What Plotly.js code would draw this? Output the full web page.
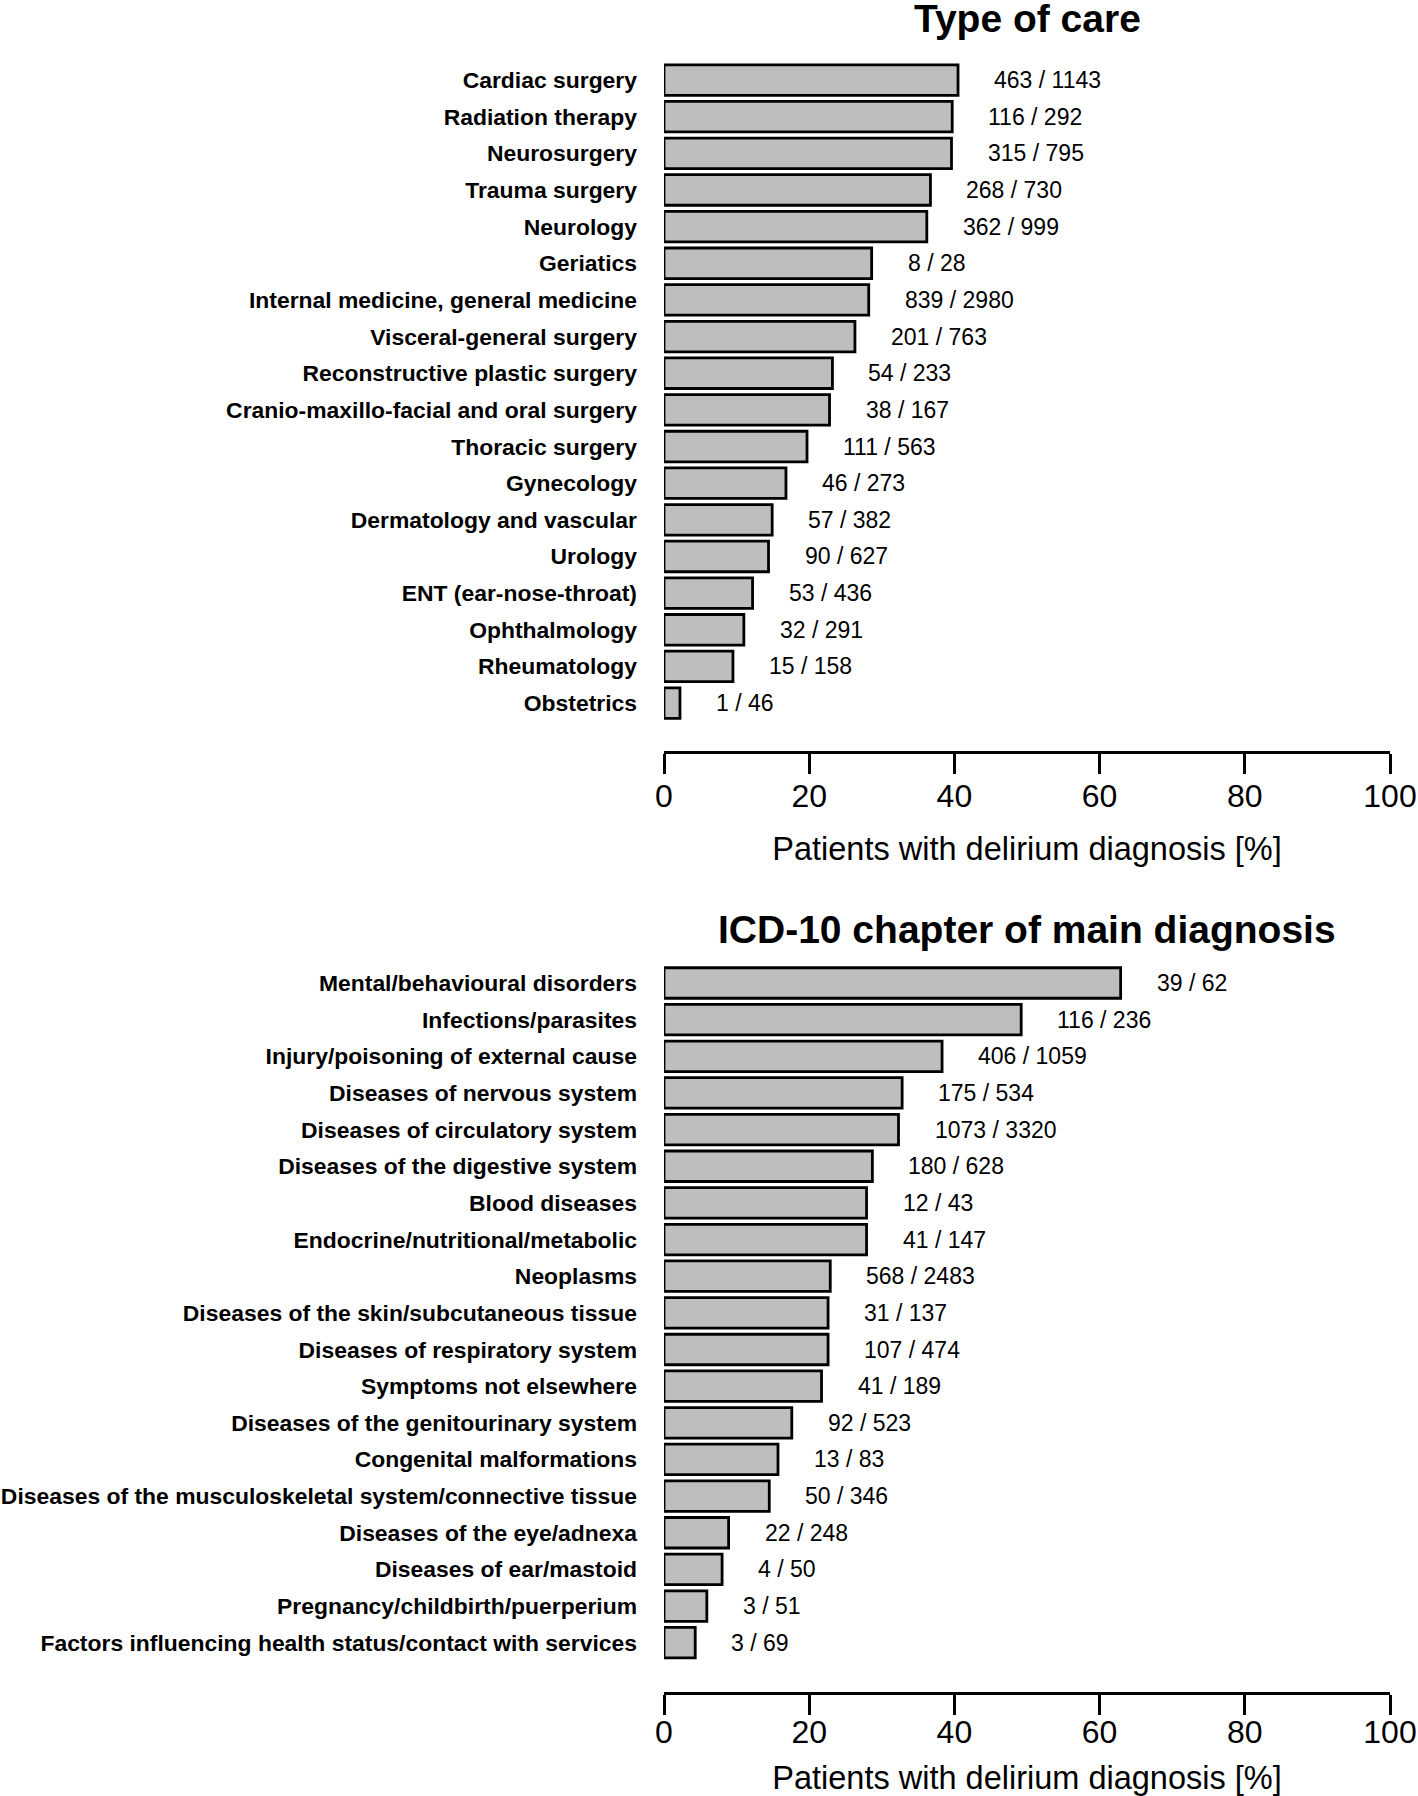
<!DOCTYPE html>
<html>
<head>
<meta charset="utf-8">
<script src="https://cdn.plot.ly/plotly-3.0.1.min.js"></script>
<style>
  html, body { margin: 0; padding: 0; background: #ffffff; }
  #chart { width: 1418px; height: 1796px; }
</style>
</head>
<body>
<div id="chart"></div>
<script>
// ---- Data: Type of care ----
const careCategories = [
  "Cardiac surgery", "Radiation therapy", "Neurosurgery", "Trauma surgery",
  "Neurology", "Geriatics", "Internal medicine, general medicine",
  "Visceral-general surgery", "Reconstructive plastic surgery",
  "Cranio-maxillo-facial and oral surgery", "Thoracic surgery", "Gynecology",
  "Dermatology and vascular", "Urology", "ENT (ear-nose-throat)",
  "Ophthalmology", "Rheumatology", "Obstetrics"
];
const carePercent = [
  40.5, 39.7, 39.6, 36.7, 36.2, 28.6, 28.2, 26.3, 23.2,
  22.8, 19.7, 16.8, 14.9, 14.4, 12.2, 11.0, 9.5, 2.2
];
const careCounts = [
  "463 / 1143", "116 / 292", "315 / 795", "268 / 730", "362 / 999", "8 / 28",
  "839 / 2980", "201 / 763", "54 / 233", "38 / 167", "111 / 563", "46 / 273",
  "57 / 382", "90 / 627", "53 / 436", "32 / 291", "15 / 158", "1 / 46"
];

// ---- Data: ICD-10 chapter of main diagnosis ----
const icdCategories = [
  "Mental/behavioural disorders", "Infections/parasites",
  "Injury/poisoning of external cause", "Diseases of nervous system",
  "Diseases of circulatory system", "Diseases of the digestive system",
  "Blood diseases", "Endocrine/nutritional/metabolic", "Neoplasms",
  "Diseases of the skin/subcutaneous tissue", "Diseases of respiratory system",
  "Symptoms not elsewhere", "Diseases of the genitourinary system",
  "Congenital malformations",
  "Diseases of the musculoskeletal system/connective tissue",
  "Diseases of the eye/adnexa", "Diseases of ear/mastoid",
  "Pregnancy/childbirth/puerperium",
  "Factors influencing health status/contact with services"
];
const icdPercent = [
  62.9, 49.2, 38.3, 32.8, 32.3, 28.7, 27.9, 27.9, 22.9, 22.6,
  22.6, 21.7, 17.6, 15.7, 14.5, 8.9, 8.0, 5.9, 4.3
];
const icdCounts = [
  "39 / 62", "116 / 236", "406 / 1059", "175 / 534", "1073 / 3320",
  "180 / 628", "12 / 43", "41 / 147", "568 / 2483", "31 / 137",
  "107 / 474", "41 / 189", "92 / 523", "13 / 83", "50 / 346",
  "22 / 248", "4 / 50", "3 / 51", "3 / 69"
];

const titleTop = "Type of care";
const titleBottom = "ICD-10 chapter of main diagnosis";
const xTitle = "Patients with delirium diagnosis [%]";
const xTicks = [0, 20, 40, 60, 80, 100];

// ---- Styling ----
const FONT = "Liberation Sans, Arial, Helvetica, sans-serif";
const barFill = "#bebebe";

function barTrace(cats, vals, xa, ya) {
  return {
    type: "bar", orientation: "h",
    x: vals, y: cats, xaxis: xa, yaxis: ya,
    width: 0.833,
    marker: { color: barFill, line: { color: "#000000", width: 2.8 } },
    hoverinfo: "skip", showlegend: false
  };
}

function countAnnotations(cats, vals, labels, xref, yref) {
  return cats.map((c, i) => ({
    x: vals[i], y: c, xref: xref, yref: yref,
    text: labels[i], showarrow: false,
    xanchor: "left", yanchor: "middle", xshift: 34,
    font: { family: FONT, size: 23, color: "#000000" }
  }));
}

const xDomain = [664 / 1418, 1390 / 1418];

function xAxis(anchor, labelStandoff, titleStandoff) {
  return {
    domain: xDomain, anchor: anchor,
    range: [0, 100], tickmode: "array", tickvals: xTicks,
    ticks: "outside", ticklen: 20, tickwidth: 3, tickcolor: "#000000",
    showline: true, linewidth: 3, linecolor: "#000000",
    showgrid: false, zeroline: false, fixedrange: true,
    ticklabelstandoff: labelStandoff,
    tickfont: { family: FONT, size: 32, color: "#000000" },
    title: { text: xTitle, standoff: titleStandoff,
             font: { family: FONT, size: 32.5, color: "#000000" } }
  };
}

function yAxis(anchor, domain, cats, range) {
  return {
    domain: domain, anchor: anchor, type: "category",
    categoryorder: "array", categoryarray: cats,
    tickmode: "array", tickvals: cats, ticktext: cats,
    range: range, ticks: "", showline: false, showgrid: false,
    zeroline: false, fixedrange: true, ticklabelstandoff: 26,
    tickfont: { family: FONT, size: 22.9, color: "#000000", weight: "bold" }
  };
}

const data = [
  barTrace(careCategories, carePercent, "x", "y"),
  barTrace(icdCategories, icdPercent, "x2", "y2")
];

const annotations = []
  .concat(countAnnotations(careCategories, carePercent, careCounts, "x", "y"))
  .concat(countAnnotations(icdCategories, icdPercent, icdCounts, "x2", "y2"))
  .concat([
    { text: titleTop, xref: "paper", yref: "paper",
      x: (xDomain[0] + xDomain[1]) / 2, y: 1 - 18 / 1796,
      xanchor: "center", yanchor: "middle", showarrow: false,
      font: { family: FONT, size: 39, color: "#000000", weight: "bold" } },
    { text: titleBottom, xref: "paper", yref: "paper",
      x: (xDomain[0] + xDomain[1]) / 2, y: 1 - 929.5 / 1796,
      xanchor: "center", yanchor: "middle", showarrow: false,
      font: { family: FONT, size: 39, color: "#000000", weight: "bold" } }
  ]);

const layout = {
  width: 1418, height: 1796,
  margin: { l: 0, r: 0, t: 0, b: 0 },
  paper_bgcolor: "#ffffff", plot_bgcolor: "#ffffff",
  font: { family: FONT, color: "#000000" },
  showlegend: false, bargap: 0,
  xaxis: xAxis("y", -5, 25),
  yaxis: yAxis("x", [1 - 750.7 / 1796, 1 - 32.4 / 1796], careCategories,
               [careCategories.length - 1 + 1.30, -1.30]),
  xaxis2: xAxis("y2", -10, 18),
  yaxis2: yAxis("x2", [1 - 1692 / 1796, 1 - 933.7 / 1796], icdCategories,
                [icdCategories.length - 1 + 1.345, -1.345]),
  annotations: annotations
};

Plotly.newPlot("chart", data, layout, { staticPlot: true, displayModeBar: false });
</script>
</body>
</html>
